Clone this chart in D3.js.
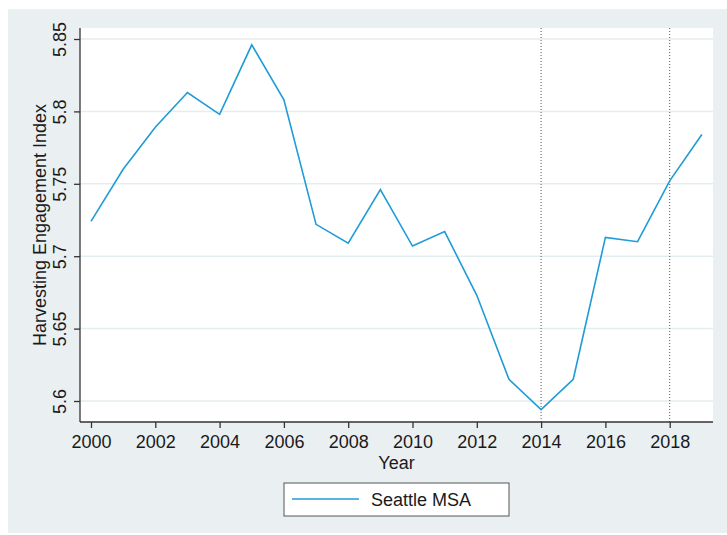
<!DOCTYPE html>
<html>
<head>
<meta charset="utf-8">
<script src="https://cdn.jsdelivr.net/npm/d3@7"></script>
<style>
  body { margin: 0; background: #fff; }
  text { font-family: "Liberation Sans", Arial, sans-serif; fill: #1a1a1a; }
</style>
</head>
<body>
<div id="chart"></div>
<script>
// data
const years = [2000, 2001, 2002, 2003, 2004, 2005, 2006, 2007, 2008, 2009,
               2010, 2011, 2012, 2013, 2014, 2015, 2016, 2017, 2018, 2019];
const seattle = [5.724, 5.760, 5.789, 5.813, 5.798, 5.846, 5.808, 5.722, 5.709, 5.746,
                 5.707, 5.717, 5.673, 5.615, 5.594, 5.615, 5.713, 5.710, 5.752, 5.784];
const yTicks = [5.6, 5.65, 5.7, 5.75, 5.8, 5.85];
const xTicks = [2000, 2002, 2004, 2006, 2008, 2010, 2012, 2014, 2016, 2018];
const markerYears = [2014, 2018];
const seriesName = "Seattle MSA";

const width = 727, height = 535;
const plot = { left: 80, top: 28, right: 713, bottom: 422 };
const fontSize = "18px";

const svg = d3.select("#chart").append("svg")
  .attr("width", width)
  .attr("height", height);

// outer background
svg.append("rect")
  .attr("x", 8).attr("y", 9)
  .attr("width", width - 8).attr("height", height - 9 - 2)
  .attr("fill", "#eaf0f2");

// plot region
svg.append("rect")
  .attr("x", plot.left).attr("y", plot.top)
  .attr("width", plot.right - plot.left).attr("height", plot.bottom - plot.top)
  .attr("fill", "#fff");

const x = d3.scaleLinear()
  .domain([2000, 2018])
  .range([91, 669.7]);

const y = d3.scaleLinear()
  .domain([5.6, 5.85])
  .range([401, 39]);

// grid lines
svg.append("g")
  .selectAll("line")
  .data(yTicks)
  .join("line")
  .attr("x1", plot.left).attr("x2", plot.right)
  .attr("y1", d => y(d)).attr("y2", d => y(d))
  .attr("stroke", "#e4edef")
  .attr("stroke-width", 1.5);

// dotted reference lines
svg.append("g")
  .selectAll("line")
  .data(markerYears)
  .join("line")
  .attr("x1", d => x(d)).attr("x2", d => x(d))
  .attr("y1", plot.top).attr("y2", plot.bottom)
  .attr("stroke", "#555")
  .attr("stroke-width", 1)
  .attr("stroke-dasharray", "1,2");

// series line
const line = d3.line()
  .x((d, i) => x(years[i]))
  .y(d => y(d));

svg.append("path")
  .datum(seattle)
  .attr("d", line)
  .attr("fill", "none")
  .attr("stroke", "#1f9bd7")
  .attr("stroke-width", 1.6)
  .attr("stroke-linejoin", "miter");

// x axis
const xAxis = svg.append("g")
  .attr("transform", `translate(0,${plot.bottom})`)
  .call(d3.axisBottom(x).tickValues(xTicks).tickFormat(d3.format("d")).tickSize(6).tickSizeOuter(0));
xAxis.select(".domain").attr("d", `M${plot.left},0H${plot.right}`).attr("stroke", "#333").attr("stroke-width", 1.3);
xAxis.selectAll(".tick line").attr("stroke", "#333").attr("stroke-width", 1.3);
xAxis.selectAll(".tick text")
  .attr("y", 13)
  .style("font-family", "'Liberation Sans', Arial, sans-serif")
  .style("font-size", fontSize)
  .attr("fill", "#1a1a1a");

// y axis
const yAxis = svg.append("g")
  .attr("transform", `translate(${plot.left},0)`)
  .call(d3.axisLeft(y).tickValues(yTicks).tickFormat(d => d3.format("")(d)).tickSize(6).tickSizeOuter(0));
yAxis.select(".domain").attr("d", `M0,${plot.top}V${plot.bottom}`).attr("stroke", "#333").attr("stroke-width", 1.3);
yAxis.selectAll(".tick line").attr("stroke", "#333").attr("stroke-width", 1.3);
yAxis.selectAll(".tick text")
  .attr("x", null).attr("dy", null)
  .attr("transform", "translate(-14,0) rotate(-90)")
  .attr("text-anchor", "middle")
  .style("font-family", "'Liberation Sans', Arial, sans-serif")
  .style("font-size", fontSize)
  .attr("fill", "#1a1a1a");

// axis titles
svg.append("text")
  .attr("x", (plot.left + plot.right) / 2)
  .attr("y", 469)
  .attr("text-anchor", "middle")
  .style("font-size", fontSize)
  .text("Year");

svg.append("text")
  .attr("transform", `translate(46,${(plot.top + plot.bottom) / 2}) rotate(-90)`)
  .attr("text-anchor", "middle")
  .style("font-size", fontSize)
  .text("Harvesting Engagement Index");

// legend
const legend = svg.append("g");
legend.append("rect")
  .attr("x", 284).attr("y", 483)
  .attr("width", 225).attr("height", 33)
  .attr("fill", "#fff")
  .attr("stroke", "#555")
  .attr("stroke-width", 1);
legend.append("line")
  .attr("x1", 292).attr("x2", 359)
  .attr("y1", 499).attr("y2", 499)
  .attr("stroke", "#1f9bd7")
  .attr("stroke-width", 1.6);
legend.append("text")
  .attr("x", 371).attr("y", 506)
  .style("font-size", fontSize)
  .text(seriesName);
</script>
</body>
</html>
